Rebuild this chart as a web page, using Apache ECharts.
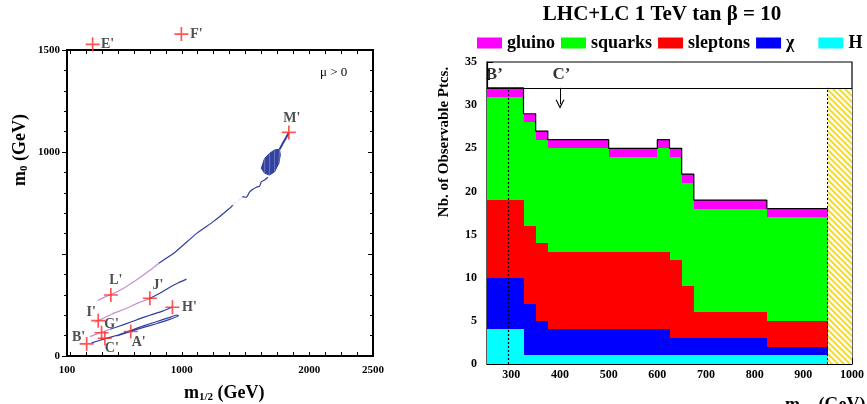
<!DOCTYPE html>
<html><head><meta charset="utf-8">
<script src="https://cdn.jsdelivr.net/npm/echarts@6/dist/echarts.min.js"></script>
<style>html,body{margin:0;padding:0;background:#fff}#c{width:867px;height:404px}</style>
</head><body><div id="c"></div>
<script>
// ================= DATA =================
// Left panel: benchmark points (m1/2, m0) in GeV
const pointNames = ["A'","B'","C'","E'","F'","G'","H'","I'","J'","L'","M'"];
const pointM12   = [600, 254, 397, 301, 997, 371, 927, 345, 750, 444, 1840];
const pointM0    = [120,  59,  87, 1528, 1578, 114, 239, 173, 283, 299, 1096];

// Left panel: contour-like curves (purple and blue parts)
const curveAPurpleM12 = [340, 400, 450, 550, 650, 750, 820];
const curveAPurpleM0  = [272, 290, 302, 335, 375, 420, 455];
const curveABlueM12 = [820, 950, 1115, 1250, 1389, 1428, 1454, 1480, 1507, 1533, 1558, 1585, 1611, 1624, 1650, 1676];
const curveABlueM0  = [455, 510, 600, 660, 732, 756, 765, 781, 778, 805, 817, 827, 833, 854, 863, 876];
const curveATopM12 = [1767, 1793, 1840];
const curveATopM0  = [1013, 1043, 1094];
const blobM12 = [1637, 1650, 1689, 1728, 1767, 1773, 1762, 1728, 1689, 1650, 1624];
const blobM0  = [945, 969, 994, 1010, 1013, 985, 945, 903, 887, 896, 920];
const dotsM12 = [880, 1037, 1141, 1227, 1298, 1352, 1407, 1446];
const dotsM0  = [561, 618, 659, 686, 716, 740, 756, 772];

const curveBPurpleM12 = [320, 345, 450, 567, 650, 744];
const curveBPurpleM0  = [165, 173, 205, 234, 258, 280];
const curveBBlueM12 = [744, 820, 900, 970, 1037];
const curveBBlueM0  = [280, 305, 335, 358, 377];

const curveCPurpleM12 = [280, 350, 437];
const curveCPurpleM0  = [95, 112, 131];
const curveCBlueM12 = [437, 550, 650, 750, 850, 927];
const curveCBlueM0  = [131, 155, 178, 200, 220, 240];

const curveDM12 = [293, 400, 500, 600, 700, 800, 900, 959, 975, 900, 800, 700, 600, 489];
const curveDM0  = [64, 85, 103, 125, 148, 168, 188, 201, 197, 178, 158, 140, 120, 98];

const leftXTickLabels = [100, 1000, 2000, 2500];
const leftYTickLabels = [0, 1000, 1500];

// Right panel: number of observable particles per m1/2 bin
const binEdges = [250, 325, 350, 375, 500, 600, 625, 650, 675, 825, 950];
const nH     = [4, 1, 1, 1, 1, 1, 1, 1, 1, 1];
const nChi   = [6, 6, 4, 3, 3, 3, 2, 2, 2, 1];
const nSlep  = [9, 9, 9, 9, 9, 9, 9, 6, 3, 3];
const nSq    = [12, 12, 12, 12, 11, 12, 12, 12, 12, 12];
const nGl    = [1, 1, 1, 1, 1, 1, 1, 1, 1, 1];
const speciesNames = ['gluino', 'squarks', 'sleptons', 'χ', 'H'];
const rightXTickLabels = [300, 400, 500, 600, 700, 800, 900, 1000];
const markerNames = ["B’", "C’"];
const markerM12 = [265, 403];
const dottedLineM12 = [294];
const arrowM12 = [400];
const excludedRange = [950, 1000];
const topBoxLevel = 32;

// ================= STYLE / BUILD =================
const F = 'Liberation Serif';
const BLUE = '#2f3e9e', PURPLE = '#c68fd2';
const pairs = (xs, ys) => xs.map((x, i) => [x, ys[i]]);
const range = (a, b, s) => { const r = []; for (let v = a; v <= b + 1e-9; v += s) r.push(v); return r; };
const plain = v => String(v);

const chart = echarts.init(document.getElementById('c'), null, {renderer: 'canvas'});

// hatch pattern
const pc = document.createElement('canvas'); pc.width = 6; pc.height = 6;
const pctx = pc.getContext('2d');
pctx.fillStyle = '#fffbe0'; pctx.fillRect(0, 0, 6, 6);
pctx.strokeStyle = '#f2d81c'; pctx.lineWidth = 1.6;
pctx.beginPath(); pctx.moveTo(-1, -1); pctx.lineTo(7, 7); pctx.moveTo(-1, 5); pctx.lineTo(1, 7); pctx.moveTo(5, -1); pctx.lineTo(7, 1); pctx.stroke();

const labelOffsets = {"E'": [15, 0], "F'": [15, 0], "M'": [3, -14], "L'": [5, -15], "J'": [8, -13], "H'": [17, 0],
  "I'": [-7, -8], "G'": [10, -8], "C'": [7, 10], "A'": [8, 11], "B'": [-8, -7]};

function lineSeries(xs, ys, color, extra) {
  return Object.assign({type: 'line', xAxisIndex: 0, yAxisIndex: 0, data: pairs(xs, ys), symbol: 'none',
    lineStyle: {color, width: 1.2}, smooth: 0.2, silent: true, clip: false, z: 3}, extra || {});
}

function renderBin(params, api) {
  const p0 = api.coord([api.value(0), api.value(3)]);
  const p1 = api.coord([api.value(1), api.value(2)]);
  const x0 = Math.round(p0[0]), y0 = Math.round(p0[1]), x1 = Math.round(p1[0]), y1 = Math.round(p1[1]);
  return {type: 'rect', shape: {x: x0, y: y0, width: x1 - x0, height: y1 - y0},
    style: {fill: api.visual('color')}};
}

const layers = [nH, nChi, nSlep, nSq, nGl];
const layerNames = ['H', 'χ', 'sleptons', 'squarks', 'gluino'];
const layerColors = ['#00ffff', '#0000ff', '#ff0000', '#00ff00', '#ff00ff'];
const base = nH.map(() => 0);
const binSeries = layers.map((vals, k) => {
  const data = vals.map((v, i) => { const y0 = base[i]; base[i] = y0 + v; return [binEdges[i], binEdges[i + 1], y0, y0 + v]; });
  return {type: 'custom', name: layerNames[k], xAxisIndex: 2, yAxisIndex: 2, itemStyle: {color: layerColors[k]},
    encode: {x: [0, 1], y: [2, 3]}, renderItem: renderBin, data, z: 2, silent: true};
});
const totals = base.slice();
const outlineData = binEdges.map((e, i) => [e, totals[Math.min(i, totals.length - 1)]]);

const chevron = 'path://M0,10 L5,0 L10,10 L8.6,10 L5,2.8 L1.4,10 Z';

const option = {
  animation: false,
  backgroundColor: '#fff',
  textStyle: {fontFamily: F},
  grid: [
    {left: 67, top: 50, width: 306, height: 306, show: true, borderColor: '#000', borderWidth: 2},
    {left: 487, top: 62, width: 371, height: 302, show: true, borderColor: '#000', borderWidth: 1.2}
  ],
  legend: {
    data: speciesNames, left: 477, top: 34, width: 700, padding: 0, itemWidth: 25, itemHeight: 11, itemGap: 6, icon: 'rect',
    textStyle: {fontFamily: F, fontWeight: 'bold', fontSize: 18, color: '#000'},
    formatter: n => n === 'χ' ? 'χ    ' : n, selectedMode: false
  },
  xAxis: [
    {gridIndex: 0, type: 'value', min: 100, max: 2500, position: 'bottom',
      axisLine: {onZero: false, lineStyle: {color: '#000', width: 2}},
      axisTick: {customValues: range(125, 2500, 125), length: 4, inside: true, lineStyle: {color: '#000'}},
      axisLabel: {customValues: leftXTickLabels, formatter: plain, margin: 9, fontFamily: F, fontWeight: 'bold', fontSize: 11, color: '#000'},
      splitLine: {show: false}},
    {gridIndex: 0, type: 'value', min: 100, max: 2500, position: 'top',
      axisLine: {onZero: false, lineStyle: {color: '#000', width: 2}},
      axisTick: {customValues: range(125, 2500, 125), length: 4, inside: true, lineStyle: {color: '#000'}},
      axisLabel: {show: false}, splitLine: {show: false}},
    {gridIndex: 1, type: 'value', min: 250, max: 1000, position: 'bottom',
      axisLine: {onZero: false, lineStyle: {color: '#000', width: 1.2}},
      axisTick: {customValues: rightXTickLabels, length: 6, inside: true, lineStyle: {color: '#000'}},
      axisLabel: {customValues: rightXTickLabels, formatter: plain, margin: 5, fontFamily: F, fontWeight: 'bold', fontSize: 12, color: '#000'},
      splitLine: {show: false}},
    {gridIndex: 1, type: 'value', min: 250, max: 1000, position: 'bottom',
      axisLine: {show: false, onZero: false},
      axisTick: {customValues: range(260, 1000, 20), length: 3, inside: true, lineStyle: {color: '#000'}},
      axisLabel: {show: false}, splitLine: {show: false}}
  ],
  yAxis: [
    {gridIndex: 0, type: 'value', min: 0, max: 1500, interval: 500, position: 'left',
      axisLine: {onZero: false, lineStyle: {color: '#000', width: 2}},
      axisTick: {length: 5, lineStyle: {color: '#000'}},
      minorTick: {show: true, splitNumber: 5, length: 3, lineStyle: {color: '#000'}},
      axisLabel: {customValues: leftYTickLabels, formatter: plain, margin: 7, fontFamily: F, fontWeight: 'bold', fontSize: 11, color: '#000'},
      splitLine: {show: false}},
    {gridIndex: 0, type: 'value', min: 0, max: 1500, interval: 500, position: 'right',
      axisLine: {onZero: false, lineStyle: {color: '#000', width: 2}},
      axisTick: {length: 5, inside: true, lineStyle: {color: '#000'}},
      minorTick: {show: true, splitNumber: 5, length: 3, lineStyle: {color: '#000'}},
      axisLabel: {show: false}, splitLine: {show: false}},
    {gridIndex: 1, type: 'value', min: 0, max: 35, interval: 5, position: 'left',
      axisLine: {onZero: false, lineStyle: {color: '#000', width: 1.2}},
      axisTick: {length: 6, inside: true, lineStyle: {color: '#000'}},
      minorTick: {show: true, splitNumber: 5, length: 3, lineStyle: {color: '#000'}},
      axisLabel: {formatter: plain, margin: 10, fontFamily: F, fontWeight: 'bold', fontSize: 12, color: '#000'},
      splitLine: {show: false}}
  ],
  series: [
    lineSeries(curveAPurpleM12, curveAPurpleM0, PURPLE),
    lineSeries(curveABlueM12, curveABlueM0, BLUE, {smooth: 0.1}),
    lineSeries(curveATopM12, curveATopM0, BLUE, {lineStyle: {color: BLUE, width: 2}}),
    lineSeries(curveBPurpleM12, curveBPurpleM0, PURPLE),
    lineSeries(curveBBlueM12, curveBBlueM0, BLUE),
    lineSeries(curveCPurpleM12, curveCPurpleM0, PURPLE),
    lineSeries(curveCBlueM12, curveCBlueM0, BLUE),
    lineSeries(curveDM12, curveDM0, BLUE, {smooth: 0.1}),
    {type: 'custom', xAxisIndex: 0, yAxisIndex: 0, silent: true, z: 3, data: [[blobM12[0], blobM0[0]]],
      renderItem: (p, api) => {
        const pts = blobM12.map((x, i) => api.coord([x, blobM0[i]]));
        const kids = [{type: 'polygon', shape: {points: pts}, style: {fill: '#33429e', stroke: BLUE, lineWidth: 1}}];
        for (let i = 1; i < 5; i++) kids.push({type: 'line', shape: {x1: pts[i][0], y1: pts[i][1], x2: pts[10 - i][0], y2: pts[10 - i][1]}, style: {stroke: '#8a96d8', lineWidth: 0.6}});
        return {type: 'group', children: kids};
      }},
    {type: 'scatter', xAxisIndex: 0, yAxisIndex: 0, silent: true, z: 3,
      data: pairs(dotsM12, dotsM0), symbol: 'emptyCircle', symbolSize: (v, p) => 2 + p.dataIndex * 0.6,
      itemStyle: {color: '#fff', borderColor: '#5a68bb', borderWidth: 1}},
    {type: 'scatter', xAxisIndex: 0, yAxisIndex: 0, silent: true, clip: false, z: 5,
      symbol: 'path://M4.4,0h1.2v4.4h4.4v1.2h-4.4v4.4h-1.2v-4.4h-4.4v-1.2h4.4z', symbolSize: 14,
      itemStyle: {color: '#ff2a2a'},
      data: pointNames.map((n, i) => ({name: n, value: [pointM12[i], pointM0[i]],
        label: {offset: labelOffsets[n]}})),
      label: {show: true, position: 'inside', formatter: p => p.name, fontFamily: F, fontWeight: 'bold', fontSize: 14, color: '#222'}},
    ...binSeries,
    {type: 'line', xAxisIndex: 2, yAxisIndex: 2, step: 'end', data: outlineData, symbol: 'none', silent: true, z: 4,
      lineStyle: {color: '#000', width: 1.2},
      markArea: {silent: true, itemStyle: {color: {image: pc, repeat: 'repeat'}},
        data: [[{coord: [excludedRange[0], 0]}, {coord: [excludedRange[1], topBoxLevel]}]]},
      markLine: {silent: true, symbol: 'none', label: {show: false}, animation: false,
        data: [
          [{coord: [250, topBoxLevel]}, {coord: [1000, topBoxLevel]}],
          [{coord: [dottedLineM12[0], 0], lineStyle: {type: [2, 2], color: '#000', width: 1.2}}, {coord: [dottedLineM12[0], topBoxLevel]}],
          [{coord: [excludedRange[0], 0], lineStyle: {type: [2, 2], color: '#000', width: 1}}, {coord: [excludedRange[0], topBoxLevel]}],
          [{coord: [arrowM12[0], topBoxLevel], symbol: 'none'}, {coord: [arrowM12[0], 30.1], symbol: chevron, symbolSize: [9, 9]}]
        ],
        lineStyle: {color: '#000', width: 1, type: 'solid'}}},
    {type: 'scatter', xAxisIndex: 2, yAxisIndex: 2, silent: true, symbol: 'circle', symbolSize: 1, z: 6,
      itemStyle: {color: 'rgba(0,0,0,0)'},
      data: markerNames.map((n, i) => ({name: n, value: [markerM12[i], 33.5]})),
      label: {show: true, position: 'inside', formatter: p => p.name, fontFamily: F, fontWeight: 'bold', fontSize: 17, color: '#000'}}
  ],
  graphic: [
    {type: 'text', left: 320, top: 66, style: {text: 'μ > 0', font: '13px "Liberation Serif"', fill: '#000'}},
    {type: 'text', x: 184, y: 383, style: {text: '{m|m}{s|1/2}{m| (GeV)}',
      rich: {m: {fontFamily: F, fontWeight: 'bold', fontSize: 18}, s: {fontFamily: F, fontWeight: 'bold', fontSize: 11, padding: [9, 0, 0, 0]}}}},
    {type: 'text', x: 10, y: 186, rotation: Math.PI / 2, style: {text: '{m|m}{s|0}{m| (GeV)}',
      rich: {m: {fontFamily: F, fontWeight: 'bold', fontSize: 18}, s: {fontFamily: F, fontWeight: 'bold', fontSize: 11, padding: [9, 0, 0, 0]}}}},
    {type: 'text', x: 662, y: 15, style: {text: 'LHC+LC 1 TeV tan β = 10', align: 'center', verticalAlign: 'middle',
      font: 'bold 21px "Liberation Serif"', fill: '#000'}},
    {type: 'text', x: 444, y: 142, rotation: Math.PI / 2, style: {text: 'Nb. of Observable Ptcs.', align: 'center', verticalAlign: 'middle',
      font: 'bold 15px "Liberation Serif"', fill: '#000'}},
    {type: 'text', x: 785, y: 395, style: {text: '{m|m}{s|1/2}{m| (GeV)}',
      rich: {m: {fontFamily: F, fontWeight: 'bold', fontSize: 18}, s: {fontFamily: F, fontWeight: 'bold', fontSize: 11, padding: [9, 0, 0, 0]}}}}
  ]
};
chart.setOption(option);
</script></body></html>
